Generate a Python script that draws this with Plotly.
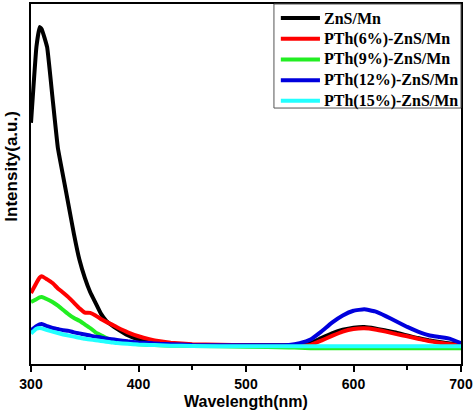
import plotly.graph_objects as go

wavelength = [300, 305, 308, 310, 315, 320, 325, 330, 335, 340, 345, 350, 355, 360, 365, 370, 375, 380,
              390, 400, 410, 420, 430, 450, 500, 540, 550, 560, 570, 580, 590, 600, 610, 620, 630, 640,
              650, 660, 670, 680, 690, 700]

zns_mn = [0.67, 0.88, 0.936, 0.93, 0.88, 0.74, 0.60, 0.52, 0.44, 0.36, 0.29, 0.24, 0.20, 0.17, 0.14, 0.12,
          0.108, 0.098, 0.08, 0.068, 0.062, 0.058, 0.055, 0.053, 0.052, 0.052, 0.053, 0.058, 0.072, 0.085,
          0.095, 0.101, 0.103, 0.099, 0.093, 0.087, 0.079, 0.072, 0.066, 0.061, 0.057, 0.055]

pth6 = [0.197, 0.225, 0.24, 0.244, 0.235, 0.225, 0.21, 0.198, 0.185, 0.17, 0.155, 0.143, 0.142, 0.135, 0.125,
        0.117, 0.11, 0.102, 0.088, 0.077, 0.069, 0.063, 0.059, 0.055, 0.052, 0.051, 0.051, 0.053, 0.065,
        0.078, 0.09, 0.097, 0.099, 0.096, 0.09, 0.083, 0.077, 0.07, 0.064, 0.059, 0.055, 0.053]

pth9 = [0.172, 0.18, 0.185, 0.186, 0.18, 0.172, 0.162, 0.15, 0.138, 0.128, 0.12, 0.11, 0.1, 0.088, 0.08,
        0.072, 0.066, 0.062, 0.058, 0.055, 0.053, 0.052, 0.051, 0.05, 0.048, 0.046, 0.045, 0.044, 0.044,
        0.044, 0.044, 0.044, 0.044, 0.044, 0.044, 0.044, 0.044, 0.044, 0.044, 0.044, 0.044, 0.044]

pth12 = [0.094, 0.105, 0.11, 0.111, 0.105, 0.1, 0.097, 0.094, 0.092, 0.088, 0.085, 0.082, 0.079, 0.076, 0.074,
         0.071, 0.069, 0.067, 0.063, 0.06, 0.058, 0.056, 0.055, 0.053, 0.052, 0.053, 0.058, 0.068, 0.09,
         0.115, 0.135, 0.148, 0.152, 0.146, 0.133, 0.118, 0.103, 0.09, 0.08, 0.075, 0.07, 0.058]

pth15 = [0.085, 0.098, 0.1, 0.099, 0.094, 0.09, 0.086, 0.082, 0.079, 0.076, 0.073, 0.07, 0.068, 0.066, 0.064,
         0.062, 0.06, 0.058, 0.056, 0.054, 0.053, 0.052, 0.051, 0.05, 0.049, 0.049, 0.049, 0.049, 0.049,
         0.049, 0.049, 0.049, 0.049, 0.049, 0.049, 0.049, 0.049, 0.049, 0.049, 0.049, 0.049, 0.049]

names = ["ZnS/Mn", "PTh(6%)-ZnS/Mn", "PTh(9%)-ZnS/Mn", "PTh(12%)-ZnS/Mn", "PTh(15%)-ZnS/Mn"]
series = [zns_mn, pth6, pth9, pth12, pth15]
colors = ["#000000", "#ff0000", "#22ee22", "#0000dd", "#22ffff"]

x_ticks = [300, 400, 500, 600, 700]

fig = go.Figure()
for name, ys, c in zip(names, series, colors):
    fig.add_trace(go.Scatter(x=wavelength, y=ys, name=name, mode="lines", showlegend=False,
                             line=dict(color=c, width=4, shape="spline", smoothing=0.3)))

# Legend box drawn in plot-area (domain) fractions
shapes = [dict(type="rect", xref="x domain", yref="y domain", x0=0.565, x1=1.0, y0=0.711, y1=1.0,
               line=dict(color="#555555", width=1), fillcolor="white", layer="above")]
annotations = []
for i, (name, c) in enumerate(zip(names, colors)):
    yy = 0.961 - i * 0.0575
    shapes.append(dict(type="line", xref="x domain", yref="y domain", x0=0.581, x1=0.672, y0=yy, y1=yy,
                       line=dict(color=c, width=4), layer="above"))
    annotations.append(dict(xref="x domain", yref="y domain", x=0.677, y=yy, xanchor="left", yanchor="middle",
                            text=f"<b>{name}</b>", showarrow=False,
                            font=dict(family="Liberation Serif", size=16, color="black")))

annotations.append(dict(xref="paper", yref="paper", x=-0.045, y=0.55, xanchor="center", yanchor="middle",
                        text="<b>Intensity(a.u.)</b>", textangle=-90, showarrow=False,
                        font=dict(family="Arial, Liberation Sans", size=17, color="black")))

fig.update_layout(
    width=474, height=410,
    margin=dict(l=31, r=13, t=4, b=46),
    plot_bgcolor="white", paper_bgcolor="white",
    font=dict(family="Arial, Liberation Sans", color="black"),
    shapes=shapes, annotations=annotations,
    xaxis=dict(range=[300, 700], tickvals=x_ticks, ticktext=[f"<b>{v}</b>" for v in x_ticks],
               showline=True, linecolor="black", linewidth=2, mirror=True, automargin=False,
               ticks="outside", ticklen=6, tickwidth=1.5, tickcolor="black",
               minor=dict(dtick=50, ticks="outside", ticklen=4, tickcolor="black", tickwidth=1.5),
               showgrid=False, zeroline=False, tickfont=dict(size=14),
               title=dict(text="<b>Wavelength(nm)</b>", font=dict(size=16), standoff=5)),
    yaxis=dict(range=[0, 1], showticklabels=False, ticks="", automargin=False,
               showline=True, linecolor="black", linewidth=2, mirror=True,
               showgrid=False, zeroline=False),
)

fig.write_html("out.html", config={"displayModeBar": False},
               post_script="document.body.style.margin='0';document.body.style.overflow='hidden';")
